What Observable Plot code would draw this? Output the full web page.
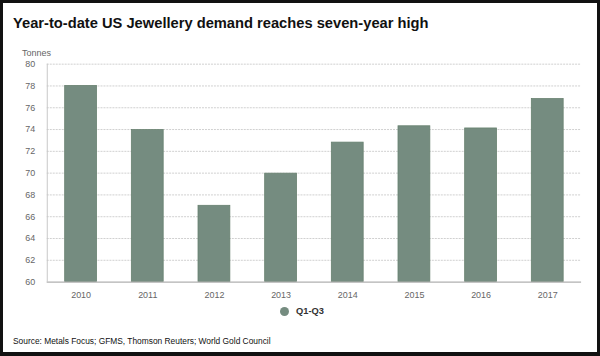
<!DOCTYPE html>
<html>
<head>
<meta charset="utf-8">
<script src="https://cdn.jsdelivr.net/npm/d3@7"></script>
<script src="https://cdn.jsdelivr.net/npm/@observablehq/plot@0.6"></script>
<style>
  html, body { margin: 0; padding: 0; background: #fff; }
  #wrap {
    position: relative; width: 600px; height: 356px; box-sizing: border-box;
    border: 3px solid #111; border-bottom-width: 4px; overflow: hidden;
    font-family: "Liberation Sans", Arial, sans-serif; background: #fff;
  }
  #title { position: absolute; left: 10px; top: 12px; font-size: 14.7px; font-weight: bold; color: #111; white-space: nowrap; }
  #unit { position: absolute; left: 19px; top: 45px; font-size: 9px; color: #666; }
  #chart { position: absolute; left: -3px; top: -3px; }
  #legend { position: absolute; left: 277px; top: 303px; font-size: 9.3px; font-weight: bold; color: #333; display: flex; align-items: center; }
  #legend .dot { width: 9px; height: 9px; border-radius: 50%; margin-right: 7px; }
  #source { position: absolute; left: 10px; top: 333px; font-size: 8.4px; color: #111; white-space: nowrap; }
</style>
</head>
<body>
<div id="wrap">
  <div id="title">Year-to-date US Jewellery demand reaches seven-year high</div>
  <div id="unit">Tonnes</div>
  <div id="chart"></div>
  <div id="legend"><span class="dot"></span><span id="legendLabel"></span></div>
  <div id="source">Source: Metals Focus; GFMS, Thomson Reuters; World Gold Council</div>
</div>
<script>
const years = ["2010", "2011", "2012", "2013", "2014", "2015", "2016", "2017"];
const q1q3 = [78.0, 73.95, 67.0, 69.95, 72.8, 74.3, 74.1, 76.8];
const yTicks = [60, 62, 64, 66, 68, 70, 72, 74, 76, 78, 80];
const seriesName = "Q1-Q3";
const barFill = "#758c80";

const data = years.map((year, i) => ({year, value: q1q3[i]}));

const chart = Plot.plot({
  width: 600,
  height: 305,
  marginTop: 64,
  marginBottom: 22,
  marginLeft: 47,
  marginRight: 16,
  style: { fontFamily: "Liberation Sans, Arial, sans-serif", fontSize: "9px", color: "#666", background: "transparent" },
  x: { domain: years, paddingInner: 0.52, paddingOuter: 0.26, label: null },
  y: { domain: [yTicks[0], yTicks[yTicks.length - 1]], label: null },
  marks: [
    Plot.gridY(yTicks.slice(1), { stroke: "#d0d0d0", strokeOpacity: 1, strokeDasharray: "2,1" }),
    Plot.barY(data, { x: "year", y1: () => yTicks[0], y2: "value", fill: barFill, stroke: "#67806f", strokeWidth: 0.8 }),
    Plot.ruleY([yTicks[0]], { stroke: "#b0b0b0", strokeWidth: 1.2 }),
    Plot.frame({ anchor: "left", stroke: "#c8c8c8" }),
    Plot.axisY(yTicks, { tickSize: 0, tickPadding: 12, label: null }),
    Plot.axisX({ tickSize: 0, tickPadding: 10, label: null })
  ]
});
document.getElementById("chart").appendChild(chart);
document.querySelector("#legend .dot").style.background = barFill;
document.getElementById("legendLabel").textContent = seriesName;
</script>
</body>
</html>
